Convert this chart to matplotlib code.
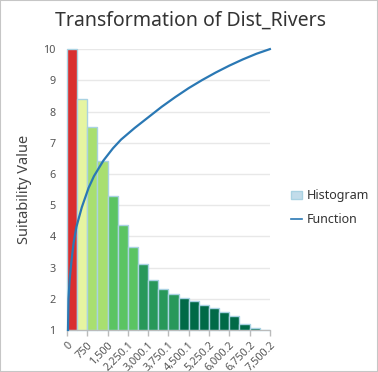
import matplotlib
matplotlib.use("Agg")
import matplotlib.pyplot as plt
import numpy as np
from matplotlib.patches import Patch, Rectangle
from matplotlib.lines import Line2D

plt.rcParams['font.family'] = ['Noto Sans', 'DejaVu Sans']

# Histogram bins (20 bins from 0 to 7,500.2) and their heights on the suitability scale
bin_edges = np.linspace(0, 7500.2, 21)
bar_values = [10.0, 8.4, 7.5, 6.4, 5.3, 4.35, 3.66, 3.11, 2.61, 2.32,
              2.16, 2.01, 1.92, 1.80, 1.71, 1.58, 1.46, 1.20, 1.07, 1.0]
bar_colors = ["#d92f2f", "#e6f5a1", "#a8df70", "#a8df70", "#5bc463", "#5bc463",
              "#5bc463", "#28985a", "#28985a", "#28985a", "#28985a", "#006a47",
              "#006a47", "#006a47", "#006a47", "#006a47", "#006a47", "#006a47",
              "#006a47", "#006a47"]

# Transformation function
func_x = [40, 60, 100, 150, 200, 250, 350, 550, 800, 1000, 1350, 1700, 2000,
          2500, 3000, 3500, 4000, 4500, 5000, 5500, 6000, 6500, 7000, 7500.2]
func_y = [1.0, 2.0, 2.6, 3.05, 3.45, 3.8, 4.3, 4.93, 5.55, 5.93, 6.43, 6.82, 7.1,
          7.47, 7.81, 8.15, 8.46, 8.75, 9.01, 9.25, 9.47, 9.67, 9.85, 10.0]

tick_pos = np.linspace(0, 7500.2, 11)
tick_labels = ["0", "750", "1,500", "2,250.1", "3,000.1", "3,750.1",
               "4,500.1", "5,250.2", "6,000.2", "6,750.2", "7,500.2"]

fig = plt.figure(figsize=(3.78, 3.72), dpi=100)
ax = fig.add_axes([0.177, 0.113, 0.537, 0.755])

widths = np.diff(bin_edges)
heights = np.array(bar_values) - 1
ax.bar(bin_edges[:-1], heights, width=widths, bottom=1, align="edge",
       color=bar_colors, edgecolor="#a9d2e2", linewidth=1, zorder=2, clip_on=False)
ax.plot(func_x, func_y, color="#2a78b4", linewidth=1.6, zorder=3, clip_on=False)

ax.set_xlim(0, 7500.2)
ax.set_ylim(1, 10)
ax.set_yticks(range(1, 11))
ax.yaxis.grid(True, color="#e8e8e8", linewidth=1, zorder=0)
ax.set_axisbelow(True)
ax.set_xticks(tick_pos)
ax.set_xticklabels(tick_labels, rotation=45, ha="right", rotation_mode="anchor")
ax.tick_params(axis="x", colors="#bbbbbb", length=4, width=1, labelcolor="#555555",
               labelsize=7.8, pad=3)
ax.tick_params(axis="y", length=0, labelcolor="#555555", labelsize=7.8, pad=8)
for s in ["top", "right", "left"]:
    ax.spines[s].set_visible(False)
ax.spines["bottom"].set_color("#bbbbbb")

ax.set_ylabel("Suitability Value", fontsize=10.5, color="#444444", labelpad=8)
fig.text(0.503, 0.945, "Transformation of Dist_Rivers", ha="center", va="center",
         fontsize=14, color="#333333")

handles = [Patch(facecolor="#c2dcea", edgecolor="#a9d2e2"),
           Line2D([0], [0], color="#2a78b4", linewidth=1.2)]
fig.legend(handles, ["Histogram", "Function"], loc="center left",
           bbox_to_anchor=(0.74, 0.442), frameon=False, fontsize=9,
           handlelength=0.9, handletextpad=0.4, labelspacing=0.85,
           labelcolor="#333333")

fig.patches.append(Rectangle((0, 0), 1, 1, transform=fig.transFigure, fill=False,
                             edgecolor="#c6c6c6", linewidth=1.5))

fig.savefig("out.png", dpi=100)
